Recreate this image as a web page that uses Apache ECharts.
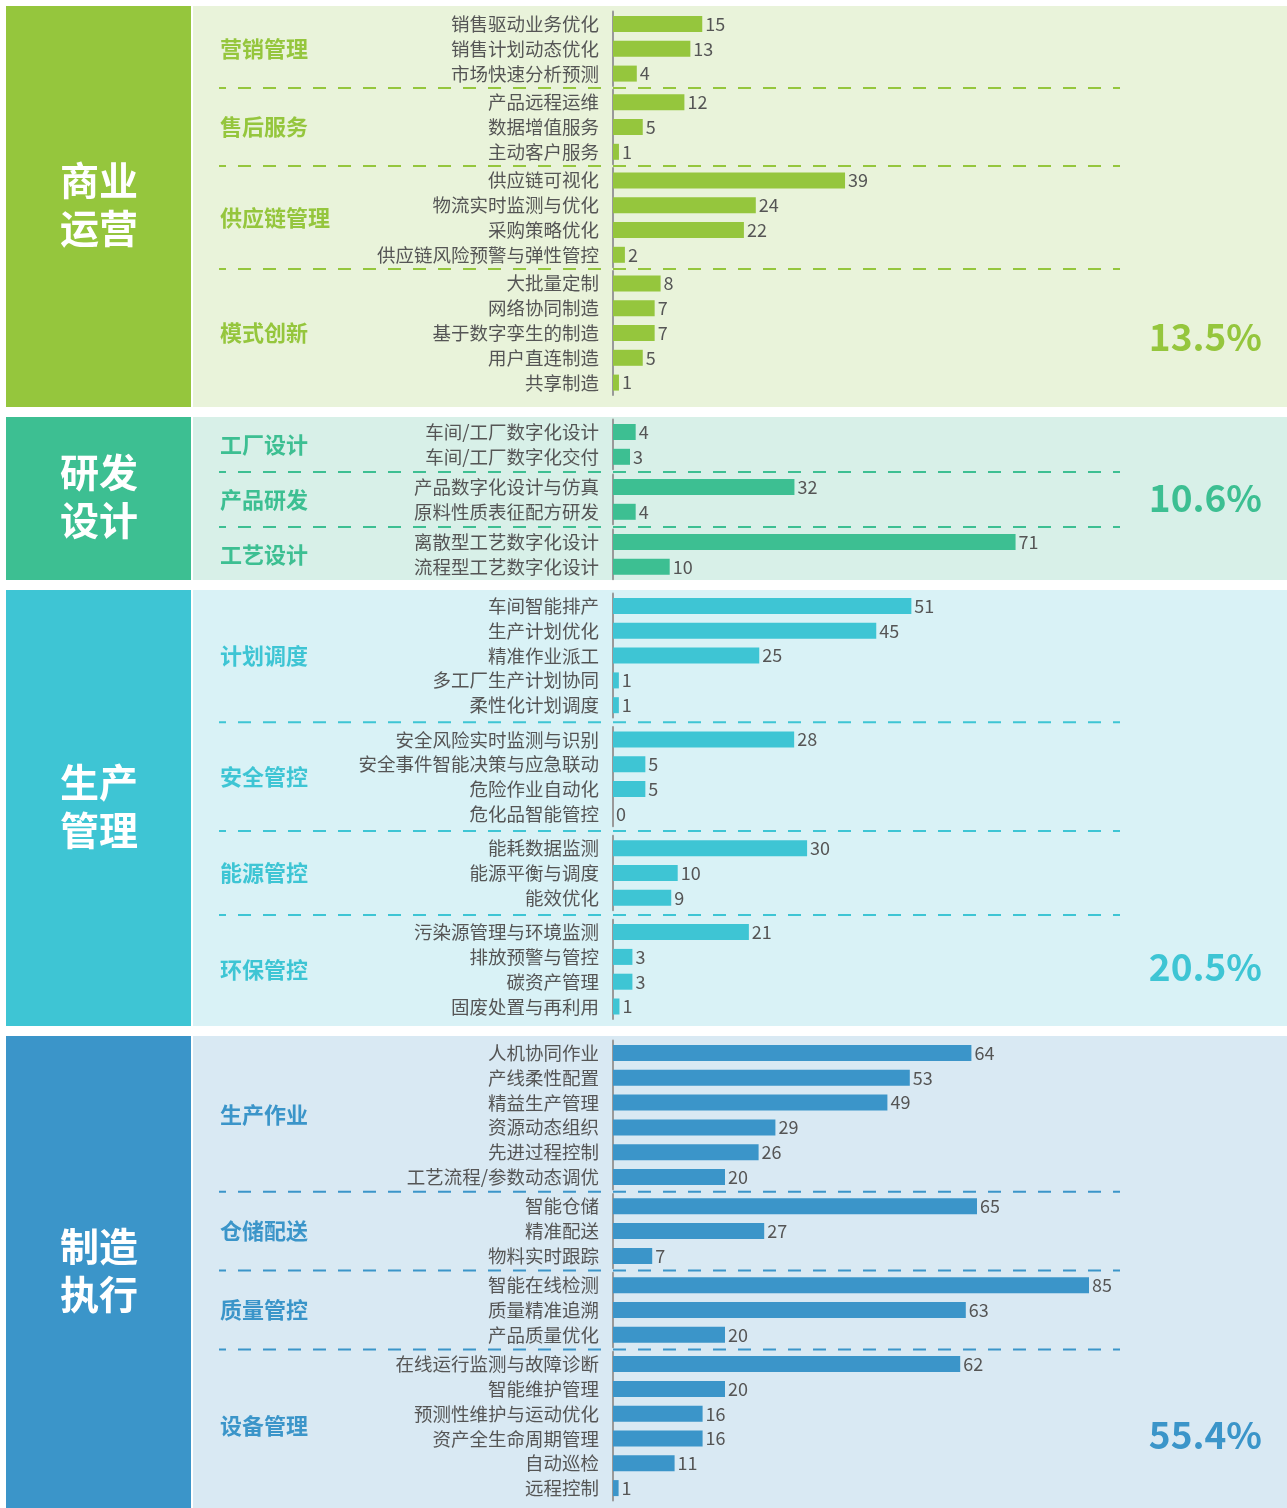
<!DOCTYPE html>
<html>
<head>
<meta charset="utf-8">
<script src="https://cdn.jsdelivr.net/npm/echarts@6/dist/echarts.min.js"></script>
<style>
  html, body { margin: 0; padding: 0; background: #fff; }
  #chart { width: 1287px; height: 1508px; }
</style>
</head>
<body>
<div id="chart"></div>
<script>
// ---------- data ----------
var sectionNames = [['商业', '运营'], ['研发', '设计'], ['生产', '管理'], ['制造', '执行']];
var sectionShares = ['13.5%', '10.6%', '20.5%', '55.4%'];

var bizGroups = ['营销管理', '售后服务', '供应链管理', '模式创新'];
var bizItems = [
  ['销售驱动业务优化', '销售计划动态优化', '市场快速分析预测'],
  ['产品远程运维', '数据增值服务', '主动客户服务'],
  ['供应链可视化', '物流实时监测与优化', '采购策略优化', '供应链风险预警与弹性管控'],
  ['大批量定制', '网络协同制造', '基于数字孪生的制造', '用户直连制造', '共享制造']
];
var bizValues = [[15, 13, 4], [12, 5, 1], [39, 24, 22, 2], [8, 7, 7, 5, 1]];

var rdGroups = ['工厂设计', '产品研发', '工艺设计'];
var rdItems = [
  ['车间/工厂数字化设计', '车间/工厂数字化交付'],
  ['产品数字化设计与仿真', '原料性质表征配方研发'],
  ['离散型工艺数字化设计', '流程型工艺数字化设计']
];
var rdValues = [[4, 3], [32, 4], [71, 10]];

var prodGroups = ['计划调度', '安全管控', '能源管控', '环保管控'];
var prodItems = [
  ['车间智能排产', '生产计划优化', '精准作业派工', '多工厂生产计划协同', '柔性化计划调度'],
  ['安全风险实时监测与识别', '安全事件智能决策与应急联动', '危险作业自动化', '危化品智能管控'],
  ['能耗数据监测', '能源平衡与调度', '能效优化'],
  ['污染源管理与环境监测', '排放预警与管控', '碳资产管理', '固废处置与再利用']
];
var prodValues = [[51, 45, 25, 1, 1], [28, 5, 5, 0], [30, 10, 9], [21, 3, 3, 1]];

var mfgGroups = ['生产作业', '仓储配送', '质量管控', '设备管理'];
var mfgItems = [
  ['人机协同作业', '产线柔性配置', '精益生产管理', '资源动态组织', '先进过程控制', '工艺流程/参数动态调优'],
  ['智能仓储', '精准配送', '物料实时跟踪'],
  ['智能在线检测', '质量精准追溯', '产品质量优化'],
  ['在线运行监测与故障诊断', '智能维护管理', '预测性维护与运动优化', '资产全生命周期管理', '自动巡检', '远程控制']
];
var mfgValues = [[64, 53, 49, 29, 26, 20], [65, 27, 7], [85, 63, 20], [62, 20, 16, 16, 11, 1]];

var groups = [bizGroups, rdGroups, prodGroups, mfgGroups];
var items = [bizItems, rdItems, prodItems, mfgItems];
var values = [bizValues, rdValues, prodValues, mfgValues];

// ---------- layout / style ----------
var FONT = '"Noto Sans CJK SC", "Noto Sans", sans-serif';
var ROW_H = 24.8;
var BAR_LEFT = 613;
var BAR_W = 500;
var layout = [
  { top: 6,    bottom: 407,  rowTop: 11.6,   gap: 3.8, color: '#95c63d', bg: '#e9f3da', shareY: 337,  px: [5.95, 5.95, 5.95, 5.95] },
  { top: 417,  bottom: 580,  rowTop: 419.6,  gap: 5.4, color: '#3dbf92', bg: '#d8f0e8', shareY: 498,  px: [5.67, 5.67, 5.67] },
  { top: 590,  bottom: 1026, rowTop: 593.6,  gap: 9.5, color: '#3ec5d4', bg: '#d9f2f6', shareY: 967,  px: [5.85, 6.47, 6.47, 6.47] },
  { top: 1036, bottom: 1508, rowTop: 1040.6, gap: 4.5, color: '#3b95c9', bg: '#d9e9f3', shareY: 1435, px: [5.6, 5.6, 5.6, 5.6] }
];

var grids = [], xAxes = [], yAxes = [], series = [], graphics = [];

layout.forEach(function (sec, s) {
  // section band + panel
  graphics.push({ type: 'rect', z: -10, shape: { x: 6, y: sec.top, width: 185, height: sec.bottom - sec.top }, style: { fill: sec.color } });
  graphics.push({ type: 'rect', z: -10, shape: { x: 193, y: sec.top, width: 1094, height: sec.bottom - sec.top }, style: { fill: sec.bg } });
  var mid = (sec.top + sec.bottom) / 2 - 2;
  sectionNames[s].forEach(function (line, li) {
    graphics.push({
      type: 'text', z: 5,
      style: { text: line, x: 99, y: mid + (li === 0 ? -24 : 24), fill: '#fff', font: 'bold 39px ' + FONT, textAlign: 'center', textVerticalAlign: 'middle' }
    });
  });
  graphics.push({
    type: 'text', z: 5,
    style: { text: sectionShares[s], x: 1262, y: sec.shareY, fill: sec.color, font: 'bold 37px ' + FONT, textAlign: 'right', textVerticalAlign: 'middle' }
  });

  var y = sec.rowTop;
  groups[s].forEach(function (gName, g) {
    var names = items[s][g];
    var vals = values[s][g];
    var h = names.length * ROW_H;
    var idx = grids.length;

    // dashed separator between sub-groups
    if (g > 0) {
      var sy = y - sec.gap / 2;
      graphics.push({ type: 'line', z: 1, shape: { x1: 219, y1: sy, x2: 1120, y2: sy }, style: { stroke: sec.color, lineWidth: 2, lineDash: [13, 12], lineDashOffset: 6 } });
    }
    graphics.push({
      type: 'text', z: 5,
      style: { text: gName, x: 220, y: y + h / 2, fill: sec.color, font: 'bold 22px ' + FONT, textAlign: 'left', textVerticalAlign: 'middle' }
    });

    grids.push({ left: BAR_LEFT, top: y, width: BAR_W, height: h });
    xAxes.push({ gridIndex: idx, type: 'value', min: 0, max: BAR_W / sec.px[g], show: false });
    yAxes.push({
      gridIndex: idx, type: 'category', inverse: true, data: names,
      axisLine: { show: true, lineStyle: { color: '#999', width: 2 } },
      axisTick: { show: false },
      axisLabel: { color: '#555', fontSize: 18.5, fontFamily: FONT, margin: 14 }
    });
    series.push({
      type: 'bar', xAxisIndex: idx, yAxisIndex: idx, data: vals,
      barWidth: 16,
      itemStyle: { color: sec.color },
      label: { show: true, position: 'right', distance: 3, color: '#555', fontSize: 18, fontFamily: FONT },
      silent: true
    });

    y += h + sec.gap;
  });
});

var chart = echarts.init(document.getElementById('chart'));
chart.setOption({
  animation: false,
  backgroundColor: '#fff',
  grid: grids,
  xAxis: xAxes,
  yAxis: yAxes,
  series: series,
  graphic: { elements: graphics }
});
</script>
</body>
</html>
